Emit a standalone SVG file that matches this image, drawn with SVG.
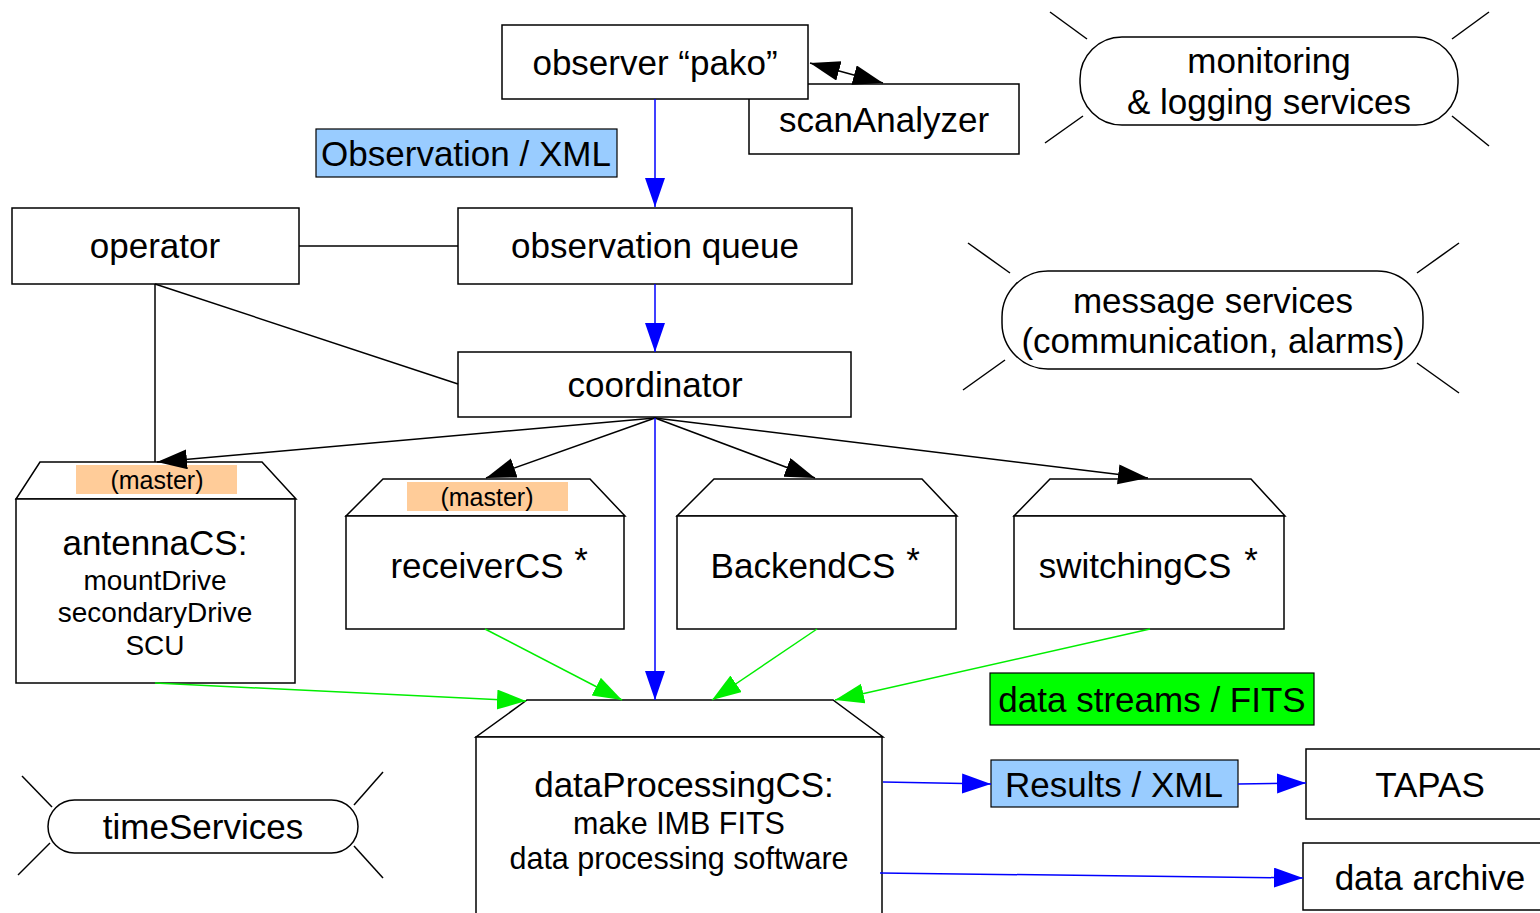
<svg xmlns="http://www.w3.org/2000/svg" width="1540" height="913" viewBox="0 0 1540 913">
<style>
text{font-family:"Liberation Sans",Arial,Helvetica,sans-serif;fill:#000;text-anchor:middle}
.big{font-size:35px}
.mid{font-size:30.5px}
.sub{font-size:28px}
.sm{font-size:25px}
.box{fill:#fff;stroke:#000;stroke-width:1.5}
.ray{stroke:#000;stroke-width:1.5;fill:none}
.blk{stroke:#000;stroke-width:1.5;fill:none}
.blu{stroke:#0000ff;stroke-width:1.5;fill:none}
.grn{stroke:#00ee00;stroke-width:1.5;fill:none}
</style>
<defs>
<marker id="ab" markerUnits="userSpaceOnUse" markerWidth="32" markerHeight="22" refX="30" refY="10" orient="auto-start-reverse"><path d="M0,0 L30,10 L0,20 z" fill="#000"/></marker>
<marker id="au" markerUnits="userSpaceOnUse" markerWidth="32" markerHeight="22" refX="29" refY="10" orient="auto"><path d="M0,0 L29,10 L0,20 z" fill="#0000ff"/></marker>
<marker id="ag" markerUnits="userSpaceOnUse" markerWidth="32" markerHeight="22" refX="29" refY="10" orient="auto"><path d="M0,0 L29,10 L0,20 z" fill="#00ee00"/></marker>
</defs>

<g id="scanAnalyzer"><rect class="box" x="749" y="84" width="270" height="70"/><text class="big" x="884" y="132">scanAnalyzer</text></g>
<g id="observer"><rect class="box" x="502" y="25" width="306" height="74"/><text class="big" x="655" y="75">observer “pako”</text></g>

<g id="monitoring">
<rect class="box" x="1080" y="37" width="378" height="88" rx="42"/>
<line class="ray" x1="1050" y1="12" x2="1087" y2="39"/><line class="ray" x1="1045" y1="143" x2="1083" y2="116"/>
<line class="ray" x1="1452" y1="39" x2="1489" y2="12"/><line class="ray" x1="1452" y1="116" x2="1489" y2="146"/>
<text class="big" x="1269" y="73">monitoring</text><text class="big" x="1269" y="114">&amp; logging services</text>
</g>

<g id="obsXml"><rect x="316" y="129" width="301" height="48" fill="#99ccff" stroke="#000" stroke-width="1.2"/><text class="big" x="466" y="166">Observation / XML</text></g>

<g id="operator"><rect class="box" x="12" y="208" width="287" height="76"/><text class="big" x="155" y="258">operator</text></g>
<g id="queue"><rect class="box" x="458" y="208" width="394" height="76"/><text class="big" x="655" y="258">observation queue</text></g>

<g id="message">
<rect class="box" x="1002" y="271" width="421" height="98" rx="46"/>
<line class="ray" x1="968" y1="243" x2="1010" y2="273"/><line class="ray" x1="963" y1="390" x2="1005" y2="360"/>
<line class="ray" x1="1417" y1="273" x2="1459" y2="243"/><line class="ray" x1="1417" y1="363" x2="1459" y2="393"/>
<text class="big" x="1213" y="313">message services</text><text class="big" x="1213" y="353">(communication, alarms)</text>
</g>

<g id="coordinator"><rect class="box" x="458" y="352" width="393" height="65"/><text class="big" x="655" y="397">coordinator</text></g>

<g id="antennaCS">
<path class="box" d="M40,462 L262,462 L296,499 L16,499 Z"/>
<rect class="box" x="16" y="499" width="279" height="184"/>
<rect x="76" y="465" width="161" height="29" fill="#ffcc99"/>
<text class="sm" x="157" y="489">(master)</text>
<text class="big" x="155" y="555">antennaCS:</text>
<text class="sub" x="155" y="590">mountDrive</text>
<text class="sub" x="155" y="622">secondaryDrive</text>
<text class="sub" x="155" y="655">SCU</text>
</g>

<g id="receiverCS">
<path class="box" d="M383,479 L590,479 L625,516 L346,516 Z"/>
<rect class="box" x="346" y="516" width="278" height="113"/>
<rect x="407" y="482" width="161" height="29" fill="#ffcc99"/>
<text class="sm" x="487" y="506">(master)</text>
<text class="big" x="477" y="578">receiverCS</text><text class="big" x="581" y="572">*</text>
</g>

<g id="BackendCS">
<path class="box" d="M714,479 L922,479 L957,516 L677,516 Z"/>
<rect class="box" x="677" y="516" width="279" height="113"/>
<text class="big" x="803" y="578">BackendCS</text><text class="big" x="913" y="572">*</text>
</g>

<g id="switchingCS">
<path class="box" d="M1050,479 L1251,479 L1285,516 L1014,516 Z"/>
<rect class="box" x="1014" y="516" width="270" height="113"/>
<text class="big" x="1135" y="578">switchingCS</text><text class="big" x="1251" y="572">*</text>
</g>

<g id="dataStreams"><rect x="990" y="673" width="324" height="52" fill="#00ff00" stroke="#000" stroke-width="1.2"/><text class="big" x="1152" y="712">data streams / FITS</text></g>

<g id="dataProcessingCS">
<path class="box" d="M527,700 L833,700 L883,737 L476,737 Z"/>
<rect class="box" x="476" y="737" width="406" height="190"/>
<text class="big" x="684" y="797">dataProcessingCS:</text>
<text class="mid" x="679" y="834">make IMB FITS</text>
<text class="mid" x="679" y="869">data processing software</text>
</g>

<g id="timeServices">
<rect class="box" x="48" y="800" width="310" height="53" rx="26.5"/>
<line class="ray" x1="22" y1="776" x2="52" y2="807"/><line class="ray" x1="18" y1="875" x2="50" y2="843"/>
<line class="ray" x1="354" y1="805" x2="383" y2="772"/><line class="ray" x1="354" y1="846" x2="383" y2="878"/>
<text class="big" x="203" y="839">timeServices</text>
</g>

<g id="resultsXml"><rect x="991" y="760" width="247" height="47" fill="#99ccff" stroke="#000" stroke-width="1.2"/><text class="big" x="1114" y="797">Results / XML</text></g>
<g id="tapas"><rect class="box" x="1306" y="749" width="250" height="70"/><text class="big" x="1430" y="797">TAPAS</text></g>
<g id="archive"><rect class="box" x="1303" y="843" width="250" height="67"/><text class="big" x="1430" y="890">data archive</text></g>

<g id="connectors">
<line class="blk" x1="810" y1="63" x2="883" y2="83" marker-start="url(#ab)" marker-end="url(#ab)"/>
<line class="blu" x1="655" y1="99" x2="655" y2="207" marker-end="url(#au)"/>
<line class="blk" x1="299" y1="246" x2="458" y2="246"/>
<line class="blu" x1="655" y1="284" x2="655" y2="352" marker-end="url(#au)"/>
<line class="blk" x1="155" y1="284" x2="458" y2="384"/>
<line class="blk" x1="155" y1="284" x2="155" y2="462"/>
<line class="blk" x1="655" y1="418" x2="157" y2="462" marker-end="url(#ab)"/>
<line class="blk" x1="655" y1="418" x2="486" y2="478" marker-end="url(#ab)"/>
<line class="blk" x1="655" y1="418" x2="815" y2="478" marker-end="url(#ab)"/>
<line class="blk" x1="655" y1="418" x2="1148" y2="478" marker-end="url(#ab)"/>
<line class="blu" x1="655" y1="418" x2="655" y2="700" marker-end="url(#au)"/>
<line class="grn" x1="155" y1="683" x2="526" y2="701" marker-end="url(#ag)"/>
<line class="grn" x1="485" y1="629" x2="622" y2="700" marker-end="url(#ag)"/>
<line class="grn" x1="817" y1="629" x2="712" y2="700" marker-end="url(#ag)"/>
<line class="grn" x1="1150" y1="629" x2="835" y2="700" marker-end="url(#ag)"/>
<line class="blu" x1="883" y1="782" x2="991" y2="784" marker-end="url(#au)"/>
<line class="blu" x1="1238" y1="784" x2="1306" y2="783" marker-end="url(#au)"/>
<line class="blu" x1="880" y1="873" x2="1303" y2="878" marker-end="url(#au)"/>
</g>
</svg>
